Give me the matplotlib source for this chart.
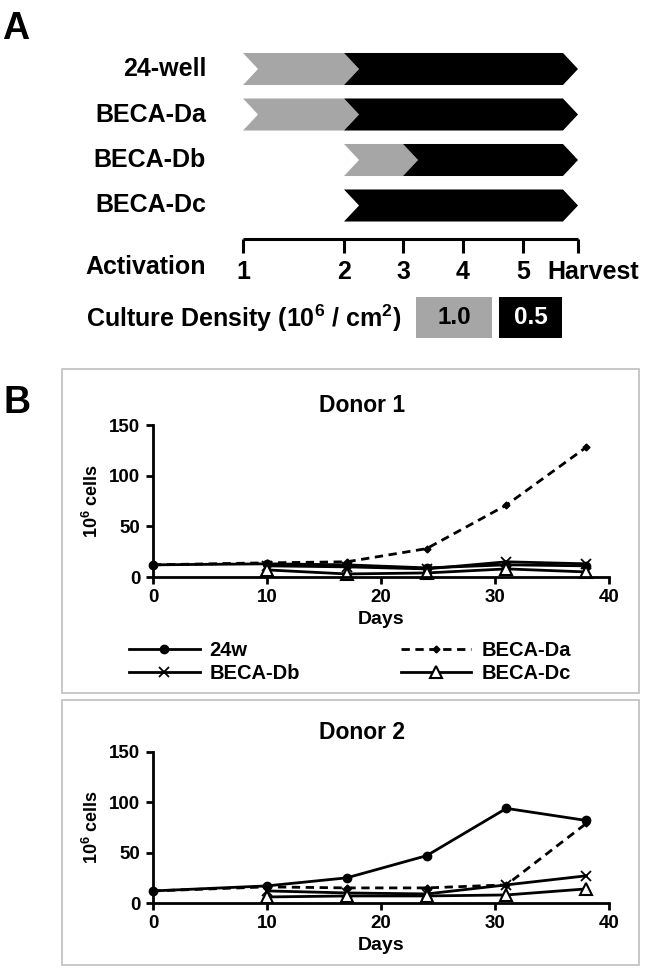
import numpy as np
import matplotlib.pyplot as plt
from matplotlib.patches import Polygon, Rectangle

plt.rcParams['font.family'] = ['Liberation Sans', 'DejaVu Sans']
plt.rcParams['font.weight'] = 'bold'
plt.rcParams['axes.labelweight'] = 'bold'
plt.rcParams['mathtext.fontset'] = 'custom'
plt.rcParams['mathtext.rm'] = 'Liberation Sans:bold'
plt.rcParams['mathtext.bf'] = 'Liberation Sans:bold'

# --- Panel A: culture schedule ---
stages = ['1', '2', '3', '4', '5', 'Harvest']
stage_pos = [0.0, 1.0, 1.584, 2.178, 2.772, 3.317]
protocols = ['24-well', 'BECA-Da', 'BECA-Db', 'BECA-Dc']
start_stage = [0, 0, 1, 1]
switch_stage = [1, 1, 2, 1]
density_labels = ['1.0', '0.5']
density_colors = ['#a6a6a6', '#000000']
density_text = ['black', 'white']

# --- Panel B: cell counts (10^6 cells) ---
days = [0, 10, 17, 24, 31, 38]
days_late = [10, 17, 24, 31, 38]
series = ['24w', 'BECA-Da', 'BECA-Db', 'BECA-Dc']

d1_24w = [12, 13, 12, 9, 12, 11]
d1_da = [12, 14, 15, 28, 71, 128]
d1_db = [11, 10, 8, 15, 13]
d1_dc = [7, 3, 4, 8, 5]

d2_24w = [12, 17, 25, 47, 94, 82]
d2_da = [12, 16, 15, 15, 18, 79]
d2_db = [12, 10, 9, 18, 27]
d2_dc = [6, 7, 7, 8, 14]

W, H = 645, 969
fig = plt.figure(figsize=(W / 100, H / 100), dpi=100)

# --- Panel A ---
axA = fig.add_axes([0, 1 - 350 / H, 1, 350 / H])
axA.set_xlim(-243 / 101, (W - 243) / 101)
axA.set_ylim((350 - 69) / 45.5, -69 / 45.5)
axA.axis('off')

hh = 0.352   # half height of arrows
d = 0.149    # chevron depth
xe = stage_pos[-1]
for i, name in enumerate(protocols):
    x0 = stage_pos[start_stage[i]]
    x1 = stage_pos[switch_stage[i]]
    if x1 > x0:
        gray = [(x0, i - hh), (x1, i - hh), (x1 + d, i), (x1, i + hh), (x0, i + hh), (x0 + d, i)]
        axA.add_patch(Polygon(gray, closed=True, facecolor=density_colors[0], edgecolor='none'))
    black = [(x1, i - hh), (xe - d, i - hh), (xe, i), (xe - d, i + hh), (x1, i + hh), (x1 + d, i)]
    axA.add_patch(Polygon(black, closed=True, facecolor=density_colors[1], edgecolor='none'))
    axA.text(-0.366, i, name, ha='right', va='center', fontsize=18)

# timeline
y_t = 3.747
axA.plot([stage_pos[0], stage_pos[-1]], [y_t, y_t], color='black', lw=2.2, solid_capstyle='butt')
for p, lab in zip(stage_pos, stages):
    axA.plot([p, p], [y_t, 4.044], color='black', lw=2.2, solid_capstyle='butt')
    off = 0.149 if lab == 'Harvest' else 0.0
    axA.text(p + off, 4.46, lab, ha='center', va='center', fontsize=18)
axA.text(-0.366, 4.36, 'Activation', ha='right', va='center', fontsize=18)

# density legend
y_d = 5.47
axA.text(1.564, y_d, r'Culture Density (10$^{6}$ / cm$^{2}$)', ha='right', va='center', fontsize=18)
box_x = [1.713, 2.535]
box_w = [0.752, 0.624]
for bx, bw, lab, c, tc in zip(box_x, box_w, density_labels, density_colors, density_text):
    axA.add_patch(Rectangle((bx, y_d - 0.45), bw, 0.90, facecolor=c, edgecolor='none'))
    axA.text(bx + bw / 2, y_d, lab, ha='center', va='center', color=tc, fontsize=17.5)

fig.text(2 / W, 1 - 11 / H, 'A', fontsize=27, ha='left', va='top')
fig.text(3 / W, 1 - 385 / H, 'B', fontsize=27, ha='left', va='top')

# --- Panel B frames ---
fig.add_artist(Rectangle((62 / W, 1 - 693 / H), 577 / W, 324 / H, transform=fig.transFigure,
                         fill=False, edgecolor='#c4c4c4', lw=1.3))
fig.add_artist(Rectangle((62 / W, 1 - 965 / H), 577 / W, 265 / H, transform=fig.transFigure,
                         fill=False, edgecolor='#c4c4c4', lw=1.3))


def draw_donor(ax, title, v24, vda, vdb, vdc):
    ax.plot(days, v24, '-', color='black', lw=2, marker='o', ms=6, clip_on=False, label=series[0])
    ax.plot(days, vda, '--', color='black', lw=2, dashes=(3, 2), marker='D', ms=3.5,
            clip_on=False, label=series[1])
    ax.plot(days_late, vdb, '-', color='black', lw=2, marker='x', ms=7, mew=1.3,
            clip_on=False, label=series[2])
    ax.plot(days_late, vdc, '-', color='black', lw=2, marker='^', ms=9, mfc='white',
            mec='black', mew=1.5, clip_on=False, label=series[3])
    ax.set_xlim(0, 40)
    ax.set_ylim(0, 150)
    ax.set_xticks([0, 10, 20, 30, 40])
    ax.set_yticks([0, 50, 100, 150])
    for s in ['top', 'right']:
        ax.spines[s].set_visible(False)
    for s in ['left', 'bottom']:
        ax.spines[s].set_linewidth(2)
    ax.tick_params(direction='out', length=5, width=2, labelsize=13.5, pad=4)
    ax.set_xlabel('Days', fontsize=14, labelpad=3)
    ax.set_ylabel(r'10$^{6}$ cells', fontsize=13, labelpad=5)
    ax.text(0.458, 1.13, title, transform=ax.transAxes, ha='center', va='center', fontsize=16.5)


ax1 = fig.add_axes([153 / W, 1 - 577 / H, 456 / W, 152 / H])
draw_donor(ax1, 'Donor 1', d1_24w, d1_da, d1_db, d1_dc)
ax2 = fig.add_axes([153 / W, 1 - 903 / H, 456 / W, 151 / H])
draw_donor(ax2, 'Donor 2', d2_24w, d2_da, d2_db, d2_dc)

h = ax1.get_lines()
ax1.legend(handles=[h[0], h[2], h[1], h[3]], ncol=2, loc='upper left',
           bbox_to_anchor=(-0.0526, -0.42), frameon=False, fontsize=14.5,
           handlelength=3.5, handletextpad=0.5, columnspacing=5.0,
           labelspacing=0.2, borderpad=0, borderaxespad=0, numpoints=1)

plt.savefig('out.png', dpi=100)
